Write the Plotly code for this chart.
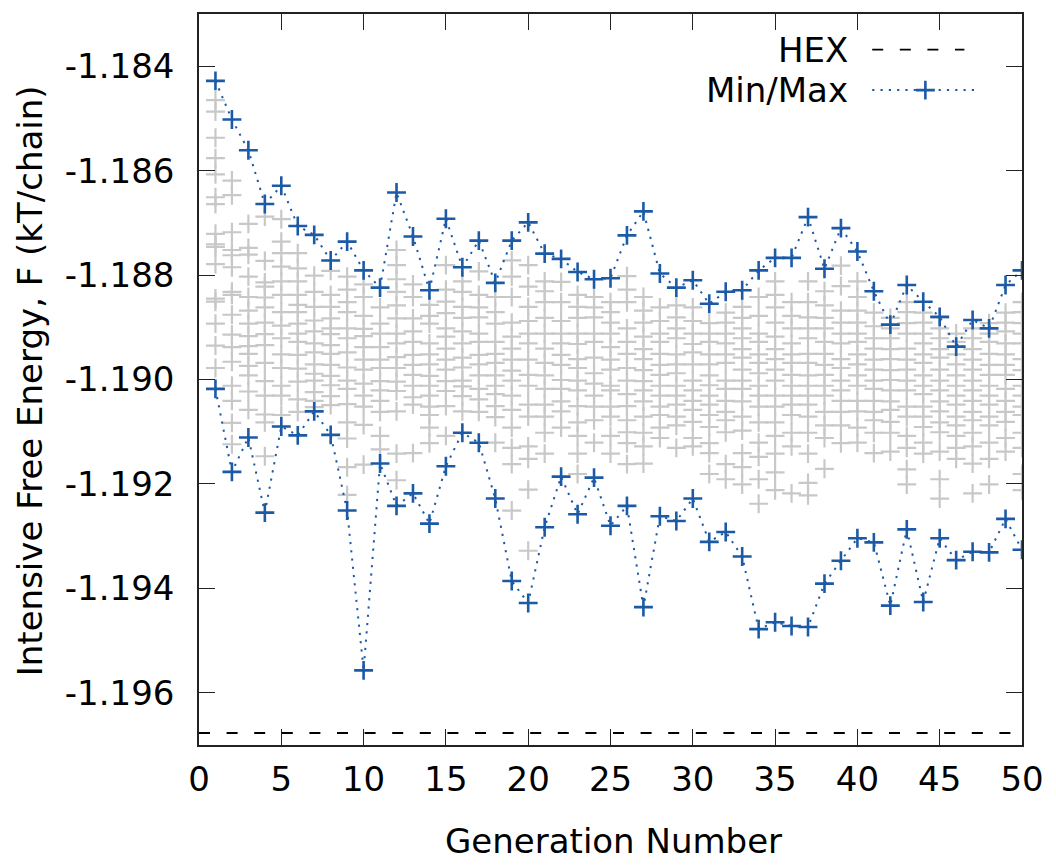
import plotly.graph_objects as go

# ---------------- data ----------------
generations = list(range(1, 51))

F_max = [-1.18428, -1.18502, -1.18561, -1.18664, -1.18629, -1.18706, -1.18723, -1.18772, -1.18736, -1.18791,
         -1.18824, -1.18642, -1.18726, -1.18829, -1.18692, -1.18785, -1.18734, -1.18815, -1.18734, -1.18699,
         -1.18759, -1.18769, -1.18794, -1.18808, -1.18806, -1.18724, -1.18678, -1.18797, -1.18824, -1.18810,
         -1.18855, -1.18832, -1.18829, -1.18791, -1.18767, -1.18767, -1.18689, -1.18788, -1.18710, -1.18755,
         -1.18831, -1.18895, -1.18819, -1.18851, -1.18880, -1.18937, -1.18886, -1.18902, -1.18819, -1.18791]

F_min = [-1.19018, -1.19177, -1.19111, -1.19255, -1.19090, -1.19107, -1.19061, -1.19106, -1.19251, -1.19557,
         -1.19161, -1.19242, -1.19218, -1.19276, -1.19166, -1.19102, -1.19121, -1.19228, -1.19386, -1.19428,
         -1.19283, -1.19186, -1.19258, -1.19188, -1.19280, -1.19242, -1.19436, -1.19262, -1.19271, -1.19228,
         -1.19311, -1.19292, -1.19339, -1.19478, -1.19465, -1.19472, -1.19474, -1.19391, -1.19347, -1.19304,
         -1.19312, -1.19433, -1.19287, -1.19426, -1.19304, -1.19346, -1.19330, -1.19331, -1.19267, -1.19326]

F_hex = -1.19677

# population free energies, one list per generation
population_F = [
    [-1.18465, -1.18487, -1.18537, -1.18576, -1.18607, -1.18651, -1.18664, -1.18721, -1.18741, -1.18746, -1.18779, -1.18845, -1.18851, -1.18893, -1.18935, -1.18978],
    [-1.18619, -1.18647, -1.18718, -1.18752, -1.18762, -1.18785, -1.18832, -1.18838, -1.18876, -1.18914, -1.18938, -1.18966, -1.19012, -1.19041, -1.19083, -1.19124],
    [-1.18702, -1.18748, -1.18761, -1.18803, -1.18842, -1.18868, -1.18893, -1.18917, -1.18936, -1.18951, -1.18974, -1.18992, -1.19023, -1.19058],
    [-1.18688, -1.18773, -1.18814, -1.18822, -1.18843, -1.18862, -1.18891, -1.18913, -1.18934, -1.18968, -1.19003, -1.19031, -1.19067, -1.19082, -1.19147],
    [-1.18693, -1.18736, -1.18758, -1.18784, -1.18812, -1.18838, -1.18871, -1.18897, -1.18921, -1.18952, -1.18978, -1.19012, -1.19031, -1.19068],
    [-1.18758, -1.18787, -1.18812, -1.18838, -1.18857, -1.18871, -1.18893, -1.18912, -1.18928, -1.18953, -1.18979, -1.19004, -1.19038, -1.19062],
    [-1.18801, -1.18832, -1.18861, -1.18887, -1.18908, -1.18931, -1.18948, -1.18971, -1.18989, -1.19002, -1.19024, -1.19041, -1.19053],
    [-1.18792, -1.18838, -1.18861, -1.18883, -1.18902, -1.18913, -1.18934, -1.18951, -1.18972, -1.18993, -1.19011, -1.19032, -1.19049],
    [-1.18803, -1.18828, -1.18852, -1.18871, -1.18902, -1.18921, -1.18948, -1.18977, -1.19002, -1.19018, -1.19047, -1.19082, -1.19113, -1.19168, -1.19221],
    [-1.18818, -1.18842, -1.18878, -1.18903, -1.18917, -1.18938, -1.18962, -1.18981, -1.19008, -1.19031, -1.19052, -1.19087, -1.19163],
    [-1.18862, -1.18893, -1.18912, -1.18938, -1.18962, -1.18978, -1.19003, -1.19021, -1.19041, -1.19062, -1.19108, -1.19134],
    [-1.18752, -1.18781, -1.18808, -1.18832, -1.18858, -1.18883, -1.18912, -1.18931, -1.18957, -1.18978, -1.19004, -1.19022, -1.19061, -1.19142, -1.19193],
    [-1.18818, -1.18842, -1.18883, -1.18908, -1.18928, -1.18953, -1.18972, -1.18991, -1.19012, -1.19034, -1.19048, -1.19141],
    [-1.18857, -1.18878, -1.18893, -1.18931, -1.18952, -1.18971, -1.18993, -1.19012, -1.19031, -1.19052, -1.19068, -1.19092, -1.19122],
    [-1.18781, -1.18828, -1.18851, -1.18873, -1.18902, -1.18918, -1.18941, -1.18962, -1.18981, -1.19003, -1.19022, -1.19051, -1.19108],
    [-1.18812, -1.18832, -1.18861, -1.18882, -1.18908, -1.18931, -1.18958, -1.18977, -1.19002, -1.19013, -1.19032, -1.19061],
    [-1.18793, -1.18838, -1.18862, -1.18881, -1.18912, -1.18928, -1.18953, -1.18971, -1.18992, -1.19018, -1.19038, -1.19062],
    [-1.18842, -1.18871, -1.18893, -1.18928, -1.18951, -1.18968, -1.18992, -1.19012, -1.19028, -1.19051, -1.19072, -1.19121],
    [-1.18772, -1.18803, -1.18842, -1.18891, -1.18918, -1.18941, -1.18962, -1.18983, -1.19002, -1.19031, -1.19058, -1.19092, -1.19131, -1.19162, -1.19251],
    [-1.18781, -1.18822, -1.18861, -1.18888, -1.18912, -1.18931, -1.18962, -1.18991, -1.19012, -1.19048, -1.19071, -1.19128, -1.19152, -1.19211, -1.19328],
    [-1.18812, -1.18831, -1.18852, -1.18882, -1.18912, -1.18941, -1.18968, -1.18992, -1.19018, -1.19048, -1.19071, -1.19102, -1.19142],
    [-1.18813, -1.18852, -1.18888, -1.18912, -1.18931, -1.18953, -1.18972, -1.19001, -1.19018, -1.19042, -1.19061, -1.19092],
    [-1.18838, -1.18861, -1.18882, -1.18912, -1.18932, -1.18961, -1.18978, -1.19002, -1.19021, -1.19051, -1.19082, -1.19108, -1.19142, -1.19181],
    [-1.18842, -1.18862, -1.18881, -1.18912, -1.18928, -1.18958, -1.18988, -1.19008, -1.19031, -1.19052, -1.19078, -1.19121],
    [-1.18852, -1.18871, -1.18891, -1.18912, -1.18938, -1.18962, -1.18981, -1.19012, -1.19021, -1.19052, -1.19071, -1.19108, -1.19142],
    [-1.18802, -1.18828, -1.18852, -1.18902, -1.18928, -1.18951, -1.18978, -1.19002, -1.19028, -1.19051, -1.19078, -1.19101, -1.19122, -1.19162],
    [-1.18842, -1.18868, -1.18891, -1.18918, -1.18942, -1.18961, -1.18982, -1.19003, -1.19021, -1.19042, -1.19071, -1.19102, -1.19128, -1.19161],
    [-1.18862, -1.18888, -1.18912, -1.18928, -1.18951, -1.18972, -1.18991, -1.19012, -1.19031, -1.19052, -1.19068, -1.19092, -1.19112],
    [-1.18858, -1.18881, -1.18902, -1.18921, -1.18952, -1.18971, -1.18988, -1.19012, -1.19031, -1.19048, -1.19071, -1.19088, -1.19131],
    [-1.18862, -1.18888, -1.18912, -1.18932, -1.18948, -1.18971, -1.19002, -1.19021, -1.19041, -1.19058, -1.19081, -1.19112, -1.19128],
    [-1.18892, -1.18912, -1.18928, -1.18952, -1.18971, -1.18992, -1.19011, -1.19031, -1.19048, -1.19068, -1.19091, -1.19122, -1.19141, -1.19181],
    [-1.18872, -1.18891, -1.18912, -1.18931, -1.18952, -1.18968, -1.19002, -1.19018, -1.19041, -1.19062, -1.19078, -1.19101, -1.19162, -1.19191],
    [-1.18861, -1.18882, -1.18902, -1.18921, -1.18942, -1.18958, -1.18981, -1.19002, -1.19018, -1.19042, -1.19071, -1.19098, -1.19141, -1.19168, -1.19201],
    [-1.18842, -1.18878, -1.18912, -1.18928, -1.18952, -1.18968, -1.18988, -1.19012, -1.19031, -1.19052, -1.19082, -1.19121, -1.19148, -1.19191, -1.19238],
    [-1.18812, -1.18838, -1.18862, -1.18891, -1.18918, -1.18942, -1.18961, -1.18981, -1.19002, -1.19031, -1.19052, -1.19082, -1.19108, -1.19142, -1.19178, -1.19212],
    [-1.18852, -1.18878, -1.18902, -1.18931, -1.18952, -1.18968, -1.18991, -1.19012, -1.19031, -1.19048, -1.19068, -1.19102, -1.19128, -1.19218],
    [-1.18812, -1.18852, -1.18881, -1.18902, -1.18921, -1.18951, -1.18968, -1.18992, -1.19012, -1.19031, -1.19048, -1.19071, -1.19102, -1.19142, -1.19198, -1.19222],
    [-1.18831, -1.18858, -1.18882, -1.18902, -1.18928, -1.18951, -1.18972, -1.18991, -1.19012, -1.19031, -1.19062, -1.19088, -1.19112, -1.19171],
    [-1.18782, -1.18821, -1.18868, -1.18891, -1.18912, -1.18931, -1.18961, -1.18978, -1.19002, -1.19021, -1.19041, -1.19062, -1.19088, -1.19122],
    [-1.18812, -1.18842, -1.18868, -1.18891, -1.18912, -1.18928, -1.18952, -1.18971, -1.18992, -1.19012, -1.19041, -1.19061, -1.19092, -1.19121],
    [-1.18872, -1.18898, -1.18921, -1.18941, -1.18962, -1.18981, -1.19002, -1.19018, -1.19041, -1.19062, -1.19078, -1.19102, -1.19141],
    [-1.18882, -1.18902, -1.18921, -1.18942, -1.18961, -1.18982, -1.19001, -1.19021, -1.19042, -1.19058, -1.19081, -1.19102, -1.19138],
    [-1.18852, -1.18871, -1.18892, -1.18912, -1.18941, -1.18962, -1.18981, -1.19002, -1.19021, -1.19052, -1.19071, -1.19108, -1.19131, -1.19172, -1.19201],
    [-1.18872, -1.18891, -1.18912, -1.18931, -1.18952, -1.18968, -1.18992, -1.19012, -1.19028, -1.19052, -1.19071, -1.19091, -1.19121, -1.19142],
    [-1.18881, -1.18902, -1.18921, -1.18942, -1.18958, -1.18981, -1.19002, -1.19021, -1.19042, -1.19061, -1.19082, -1.19101, -1.19138, -1.19191, -1.19228],
    [-1.18912, -1.18928, -1.18952, -1.18971, -1.18992, -1.19012, -1.19031, -1.19048, -1.19071, -1.19088, -1.19108, -1.19131, -1.19152],
    [-1.18902, -1.18921, -1.18942, -1.18962, -1.18981, -1.19002, -1.19021, -1.19041, -1.19062, -1.19078, -1.19102, -1.19128, -1.19161, -1.19218],
    [-1.18892, -1.18912, -1.18928, -1.18951, -1.18972, -1.18991, -1.19012, -1.19031, -1.19048, -1.19071, -1.19088, -1.19121, -1.19152, -1.19201],
    [-1.18872, -1.18891, -1.18908, -1.18931, -1.18952, -1.18972, -1.18991, -1.19018, -1.19041, -1.19062, -1.19081, -1.19112, -1.19138],
    [-1.18852, -1.18871, -1.18892, -1.18912, -1.18931, -1.18961, -1.18982, -1.19012, -1.19031, -1.19052, -1.19068, -1.19102, -1.19131, -1.19181, -1.19212],
]

x_range = [0, 50]
y_range = [-1.197, -1.183]
x_ticks = [0, 5, 10, 15, 20, 25, 30, 35, 40, 45, 50]
y_ticks = [-1.196, -1.194, -1.192, -1.190, -1.188, -1.186, -1.184]
y_ticklabels = ["-1.196", "-1.194", "-1.192", "-1.190", "-1.188", "-1.186", "-1.184"]

# ---------------- styling ----------------
FONT = "DejaVu Sans"
FS = 34
BLUE = "#1c5aa6"
GRAY = "#c8c8c8"
AXC = "#222222"
MSIZE = 13.5
HEX_DASH = "11px,16.6px"
DOT_DASH = "2.2px,6.1px"

pop_x = [g for g, vals in zip(generations, population_F) for _ in vals]
pop_y = [v for vals in population_F for v in vals]

fig = go.Figure()

fig.add_trace(go.Scatter(
    x=pop_x, y=pop_y, mode="markers", showlegend=False, hoverinfo="skip",
    marker=dict(symbol="cross-thin", size=MSIZE, color=GRAY, line=dict(color=GRAY, width=2.2)),
))

fig.add_trace(go.Scatter(
    x=x_range, y=[F_hex, F_hex], mode="lines", showlegend=False,
    line=dict(color="black", width=1.8, dash=HEX_DASH),
))

for series in (F_max, F_min):
    fig.add_trace(go.Scatter(
        x=generations, y=series, mode="lines+markers", showlegend=False,
        line=dict(color=BLUE, width=2, dash=DOT_DASH),
        marker=dict(symbol="cross-thin", size=MSIZE, color=BLUE, line=dict(color=BLUE, width=2.6)),
    ))

# legend samples on an overlay axis spanning the plot area (0..1)
fig.add_trace(go.Scatter(
    x=[0.818, 0.930], y=[0.9513, 0.9513], xaxis="x2", yaxis="y2", mode="lines", showlegend=False,
    line=dict(color="black", width=1.8, dash=HEX_DASH),
))
fig.add_trace(go.Scatter(
    x=[0.818, 0.945], y=[0.8959, 0.8959], xaxis="x2", yaxis="y2", mode="lines", showlegend=False,
    line=dict(color=BLUE, width=2, dash=DOT_DASH),
))
fig.add_trace(go.Scatter(
    x=[0.8826], y=[0.8959], xaxis="x2", yaxis="y2", mode="markers", showlegend=False,
    marker=dict(symbol="cross-thin", size=MSIZE, color=BLUE, line=dict(color=BLUE, width=2.6)),
))

fig.update_layout(
    width=1056, height=865,
    margin=dict(l=199, r=31, t=12, b=120, pad=0),
    paper_bgcolor="white", plot_bgcolor="white",
    font=dict(family=FONT, size=FS, color="black"),
    xaxis=dict(
        range=x_range, tickmode="array", tickvals=x_ticks, ticks="inside", ticklen=16,
        tickwidth=1.3, tickcolor=AXC, showline=True, linecolor=AXC, linewidth=1.5,
        mirror="ticks", showgrid=False, zeroline=False, ticklabelstandoff=3,
        tickfont=dict(family=FONT, size=FS, color="black"),
    ),
    yaxis=dict(
        range=y_range, tickmode="array", tickvals=y_ticks, ticktext=y_ticklabels,
        ticks="inside", ticklen=16, tickwidth=1.3, tickcolor=AXC, showline=True,
        linecolor=AXC, linewidth=1.5, mirror="ticks", showgrid=False, zeroline=False,
        ticklabelstandoff=16, tickfont=dict(family=FONT, size=FS, color="black"),
    ),
    xaxis2=dict(range=[0, 1], overlaying="x", visible=False, fixedrange=True),
    yaxis2=dict(range=[0, 1], overlaying="y", visible=False, fixedrange=True),
    annotations=[
        dict(text="Generation Number", xref="paper", yref="paper", x=0.504, y=-0.132,
             xanchor="center", yanchor="middle", showarrow=False, font=dict(family=FONT, size=FS)),
        dict(text="Intensive Free Energy, F (kT/chain)", xref="paper", yref="paper", x=-0.205, y=0.498,
             xanchor="center", yanchor="middle", textangle=-90, showarrow=False,
             font=dict(family=FONT, size=FS)),
        dict(text="HEX", xref="paper", yref="paper", x=0.7906, y=0.9513,
             xanchor="right", yanchor="middle", showarrow=False, font=dict(family=FONT, size=FS)),
        dict(text="Min/Max", xref="paper", yref="paper", x=0.7906, y=0.8959,
             xanchor="right", yanchor="middle", showarrow=False, font=dict(family=FONT, size=FS)),
    ],
)

fig.write_html("out.html")
